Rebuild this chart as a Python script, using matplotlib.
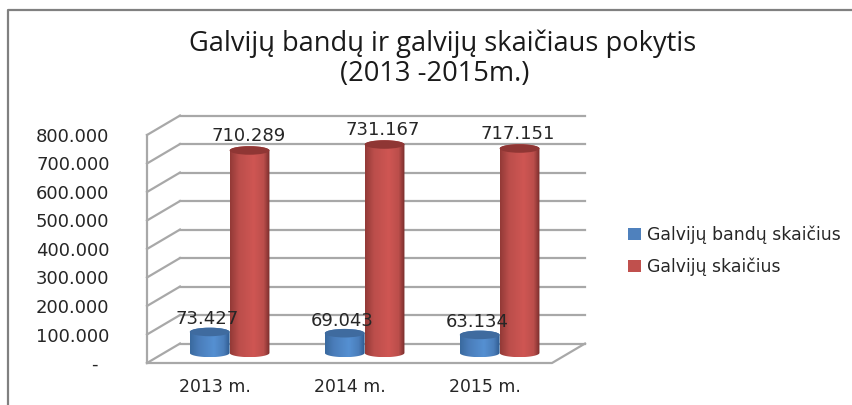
#!/usr/bin/env python
import numpy as np
import matplotlib
matplotlib.use("Agg")
import matplotlib.pyplot as plt
from matplotlib.colors import LinearSegmentedColormap
from matplotlib.lines import Line2D
from matplotlib.patches import Ellipse, PathPatch, Patch
from matplotlib.path import Path

years = ["2013 m.", "2014 m.", "2015 m."]
bandu_skaicius = [73427, 69043, 63134]
galviju_skaicius = [710289, 731167, 717151]
series_names = ["Galvijų bandų skaičius", "Galvijų skaičius"]
y_ticks = [0, 100000, 200000, 300000, 400000, 500000, 600000, 700000, 800000]
y_labels = ["-  ", "100.000", "200.000", "300.000", "400.000", "500.000",
            "600.000", "700.000", "800.000"]
bandu_labels = ["73.427", "69.043", "63.134"]
galviju_labels = ["710.289", "731.167", "717.151"]

W, H = 852, 405
text_col = "#262626"
grid_col = "#a8a8a8"

# the fake 3d: how far the back wall is moved, in data units
depth_x = 33 / 135
depth_y = 68250
bar_w = 0.295
ell_h = 15000
bar_depth = 0.52

fig = plt.figure(figsize=(W / 100, H / 100), dpi=100)
ax = fig.add_axes([147 / W, (H - 363) / H, 405 / W, 228 / H])
ax.set_xlim(-0.5, 2.5)
ax.set_ylim(0, 800000)
for s in ax.spines.values():
    s.set_visible(False)
ax.patch.set_visible(False)

# walls and floor
for v in y_ticks:
    ax.plot([-0.5 + depth_x, 2.5 + depth_x], [v + depth_y, v + depth_y],
            color=grid_col, lw=1.6, clip_on=False, zorder=1)
    ax.plot([-0.5, -0.5 + depth_x], [v, v + depth_y],
            color=grid_col, lw=1.6, clip_on=False, zorder=1)
ax.plot([-0.5, -0.5], [0, 800000], color=grid_col, lw=1.6, clip_on=False, zorder=1)
ax.plot([-0.5, 2.5, 2.5 + depth_x], [0, 0, depth_y],
        color=grid_col, lw=1.6, clip_on=False, zorder=1)


def cylinder(x0, val, edge_l, edge_r, mid, light, top, z):
    x0 = x0 + 0.54 * depth_x
    base = bar_depth * depth_y
    x1 = x0 + bar_w
    xc = (x0 + x1) / 2
    t = np.linspace(np.pi, 2 * np.pi, 40)
    low = np.column_stack([xc + bar_w / 2 * np.cos(t), base + ell_h * np.sin(t)])
    t2 = np.linspace(0, np.pi, 40)
    up = np.column_stack([xc + bar_w / 2 * np.cos(t2), base + val + ell_h * np.sin(t2)])
    clip = PathPatch(Path(np.vstack([low, up, low[:1]])), transform=ax.transData,
                     fc="none", ec="none")
    ax.add_patch(clip)
    cmap = LinearSegmentedColormap.from_list("c", [(0, edge_l), (0.22, mid), (0.6, light),
                                                   (0.85, mid), (1, edge_r)])
    im = ax.imshow(np.linspace(0, 1, 60).reshape(1, -1), cmap=cmap, aspect="auto",
                   extent=[x0, x1, base - ell_h, base + val + ell_h], zorder=z)
    im.set_clip_path(clip)
    ax.add_patch(Ellipse((xc, base + val), bar_w, 2 * ell_h, fc=top, ec="none",
                         clip_on=False, zorder=z + 0.1))


for i in range(len(years)):
    cylinder(i - 0.02 - bar_w, bandu_skaicius[i], "#3a6a9f", "#2f5c92", "#4a7dba", "#5590d2", "#3f6b9f", 3)
    cylinder(i - 0.02, galviju_skaicius[i], "#943a37", "#7a2e2c", "#bb4e4b", "#cf5653", "#8f3634", 4)

ax.set_xlim(-0.5, 2.5)
ax.set_ylim(0, 800000)

# value labels
for i in range(len(years)):
    ax.annotate(bandu_labels[i], (i - 0.02 - bar_w / 2 + 0.54 * depth_x,
                                  bandu_skaicius[i] + bar_depth * depth_y),
                xytext=(-2, 9), textcoords="offset points", ha="center", va="center",
                fontsize=13, color=text_col, zorder=6, annotation_clip=False)
    ax.annotate(galviju_labels[i], (i - 0.02 + bar_w / 2 + 0.54 * depth_x,
                                    galviju_skaicius[i] + bar_depth * depth_y),
                xytext=(-1, 10.5), textcoords="offset points", ha="center", va="center",
                fontsize=13, color=text_col, zorder=6, annotation_clip=False)

ax.set_yticks(y_ticks)
ax.set_yticklabels(y_labels, fontsize=13, color=text_col)
ax.set_xticks(range(len(years)))
ax.set_xticklabels(years, fontsize=12.4, color=text_col)
ax.tick_params(axis="y", length=0, pad=27)
ax.tick_params(axis="x", length=0, pad=11)

fig.text(443 / W, 1 - 44 / H, "Galvijų bandų ir galvijų skaičiaus pokytis", ha="center",
         va="center", fontsize=19.6, family="Open Sans", color="#1a1a1a")
fig.text(435 / W, 1 - 74 / H, "(2013 -2015m.)", ha="center", va="center",
         fontsize=19.6, family="Open Sans", color="#1a1a1a")

handles = [Patch(fc="#4f81bd", ec="none"), Patch(fc="#c0504d", ec="none")]
fig.legend(handles, series_names, loc="center left", bbox_to_anchor=(621 / W, 1 - 250.5 / H),
           frameon=False, fontsize=12.4, labelcolor=text_col, handlelength=0.78,
           handleheight=0.7, handletextpad=0.35, labelspacing=0.8, borderaxespad=0,
           borderpad=0.4)

# outer frame of the pasted chart
fig.add_artist(Line2D([8 / W, 8 / W, 1], [0, 1 - 10 / H, 1 - 10 / H], color="#808080", lw=1.6))

fig.savefig("out.png", dpi=100)
plt.close()
